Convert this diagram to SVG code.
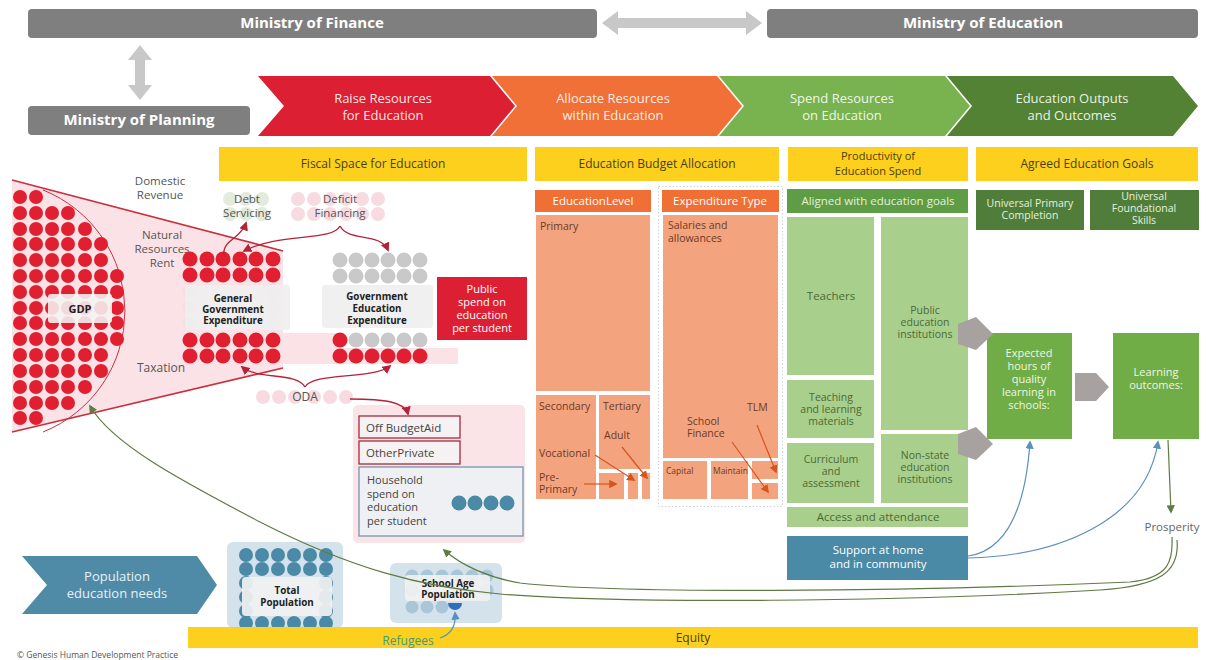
<svg xmlns="http://www.w3.org/2000/svg" width="1206" height="660" viewBox="0 0 1206 660">
<style>
text{font-family:"Open Sans","Noto Sans","Liberation Sans",sans-serif;}
.min{fill:#7f7f7f;}
.mint{fill:#fff;font-weight:bold;font-size:15px;text-anchor:middle;}
.chev{stroke:none;}
.chevt{fill:#fff;fill-opacity:0.9;font-size:13px;text-anchor:middle;}
.ybar{fill:#fdd01d;}
.ybt{fill:#4a3f10;font-size:12px;text-anchor:middle;}
.ybt2{fill:#4a3f10;font-size:11px;text-anchor:middle;}
.lbl{fill:#555;font-size:12px;text-anchor:middle;}
.lbl2{fill:#555;font-size:11.5px;text-anchor:middle;}
.rc{fill:#e01f30;}
.gc{fill:#c9c9c9;}
.pc{fill:#f8dbe0;}
.fc{fill:#f3dfe2;}
.bc{fill:#4a8aa6;}
.lbc{fill:#a9c6d8;}
.lbox{fill:#efefef;fill-opacity:0.92;}
.bold{fill:#222;font-size:9.8px;font-weight:bold;text-anchor:middle;}
.oh{fill:#ef6f35;}
.ob{fill:#f4a37f;stroke:#fff;stroke-width:2;}
.oht{fill:#fff;font-size:11.5px;text-anchor:middle;}
.ot{fill:#6b3b24;font-size:10.5px;}
.os{fill:#6b3b24;font-size:8.5px;}
.gh{fill:#5e9c46;}
.gb{fill:#a9cf8d;}
.gt{fill:#4b6a35;font-size:10.5px;text-anchor:middle;}
.gt1{fill:#4b6a35;font-size:11.5px;text-anchor:middle;}
.dg{fill:#507e3a;}
.dgt{fill:#e6f0dc;font-size:10.5px;text-anchor:middle;}
.dgh{fill:#e6f0dc;font-size:11.5px;text-anchor:middle;}
.mg{fill:#70ad47;}
.mgt{fill:#eef6e6;font-size:11px;text-anchor:middle;}
.garr{fill:#a7a19f;}
.blue{fill:#4a8aa6;}
.wt{fill:#fff;font-size:11.5px;text-anchor:middle;}
.dk{fill:#444;font-size:11.5px;}
.dk2{fill:#444;font-size:11px;}
.red{stroke:#b4233a;stroke-width:1.3;fill:none;}
.orn{stroke:#d4561f;stroke-width:1.2;fill:none;}
.blu{stroke:#5b8fc0;stroke-width:1.2;fill:none;}
.grn{stroke:#5f7a45;stroke-width:1.2;fill:none;}
</style>
<defs>
<marker id="mr" viewBox="0 0 10 10" refX="8" refY="5" markerWidth="7" markerHeight="7" orient="auto"><path d="M0,0 L10,5 L0,10 Z" fill="#b4233a"/></marker>
<marker id="mo" viewBox="0 0 10 10" refX="8" refY="5" markerWidth="7" markerHeight="7" orient="auto"><path d="M0,0 L10,5 L0,10 Z" fill="#d4561f"/></marker>
<marker id="mb" viewBox="0 0 10 10" refX="8" refY="5" markerWidth="7" markerHeight="7" orient="auto"><path d="M0,0 L10,5 L0,10 Z" fill="#5b8fc0"/></marker>
<marker id="mg" viewBox="0 0 10 10" refX="8" refY="5" markerWidth="7" markerHeight="7" orient="auto"><path d="M0,0 L10,5 L0,10 Z" fill="#5f7a45"/></marker>
</defs>
<rect width="1206" height="660" fill="#fff"/>

<!-- Ministries -->
<g id="ministry-finance"><rect class="min" x="28" y="9" width="569" height="29" rx="4"/><text class="mint" x="312" y="28">Ministry of Finance</text></g>
<g id="ministry-education"><rect class="min" x="767" y="9" width="431" height="29" rx="4"/><text class="mint" x="983" y="28">Ministry of Education</text></g>
<g id="ministry-planning"><rect class="min" x="28" y="106" width="222" height="29" rx="4"/><text class="mint" x="139" y="125">Ministry of Planning</text></g>
<g id="ministry-arrows" fill="#c8c8c8">
<polygon points="602,23 618,11 618,18 746,18 746,11 762,23 746,35 746,28 618,28 618,35"/>
<polygon points="140,45 152,60 145,60 145,85 152,85 140,100 128,85 135,85 135,60 128,60"/>
</g>

<!-- Chevrons -->
<g id="stage-raise"><path class="chev" fill="#dc1f33" d="M258 76 L490 76 L515 106 L490 136 L258 136 L284 106 Z"/><text class="chevt" x="383" y="103">Raise Resources</text><text class="chevt" x="383" y="120">for Education</text></g>
<g id="stage-allocate"><path class="chev" fill="#f07038" d="M492 76 L717 76 L742 106 L717 136 L492 136 L517 106 Z"/><text class="chevt" x="613" y="103">Allocate Resources</text><text class="chevt" x="613" y="120">within Education</text></g>
<g id="stage-spend"><path class="chev" fill="#78b350" d="M719 76 L945 76 L970 106 L945 136 L719 136 L744 106 Z"/><text class="chevt" x="842" y="103">Spend Resources</text><text class="chevt" x="842" y="120">on Education</text></g>
<g id="stage-outputs"><path class="chev" fill="#548235" d="M947 76 L1173 76 L1198 106 L1173 136 L947 136 L972 106 Z"/><text class="chevt" x="1072" y="103">Education Outputs</text><text class="chevt" x="1072" y="120">and Outcomes</text></g>

<!-- Yellow headers -->
<g id="hdr-fiscal"><rect class="ybar" x="219" y="147" width="308" height="34"/><text class="ybt" x="373" y="168">Fiscal Space for Education</text></g>
<g id="hdr-budget"><rect class="ybar" x="535" y="147" width="244" height="34"/><text class="ybt" x="657" y="168">Education  Budget  Allocation</text></g>
<g id="hdr-productivity"><rect class="ybar" x="788" y="147" width="180" height="34"/><text class="ybt2" x="878" y="160">Productivity of</text><text class="ybt2" x="878" y="175">Education  Spend</text></g>
<g id="hdr-goals"><rect class="ybar" x="976" y="147" width="222" height="34"/><text class="ybt" x="1087" y="168">Agreed  Education  Goals</text></g>

<!-- Funnel and GDP -->
<g id="funnel">
<polygon points="12,180 283,251 283,368 12,432" fill="#fbe2e6"/>
<rect x="283" y="333" width="55" height="15" fill="#fbe2e6"/>
<rect x="283" y="348" width="175" height="16" fill="#fbe2e6"/>
<line x1="12" y1="180" x2="283" y2="251" stroke="#c9303f" stroke-width="1.6"/>
<line x1="12" y1="432" x2="283" y2="368" stroke="#c9303f" stroke-width="1.6"/>
<path d="M43 190 A130.3 130.3 0 0 1 43 432" fill="none" stroke="#c9303f" stroke-width="1"/>
<text class="lbl2" x="160" y="185">Domestic</text><text class="lbl2" x="160" y="199">Revenue</text>
<text class="lbl2" x="162" y="239">Natural</text><text class="lbl2" x="162" y="253">Resources</text><text class="lbl2" x="162" y="267">Rent</text>
<text class="lbl" x="161" y="372">Taxation</text>
</g>
<g id="gdp" class="rc">
<circle cx="20" cy="197" r="7"/><circle cx="36" cy="197" r="7"/>
<circle cx="20" cy="213" r="7"/><circle cx="36" cy="213" r="7"/><circle cx="52" cy="213" r="7"/><circle cx="68" cy="213" r="7"/>
<circle cx="20" cy="229" r="7"/><circle cx="36" cy="229" r="7"/><circle cx="52" cy="229" r="7"/><circle cx="68" cy="229" r="7"/><circle cx="85" cy="229" r="7"/>
<circle cx="20" cy="244" r="7"/><circle cx="36" cy="244" r="7"/><circle cx="52" cy="244" r="7"/><circle cx="68" cy="244" r="7"/><circle cx="85" cy="244" r="7"/><circle cx="101" cy="244" r="7"/>
<circle cx="20" cy="260" r="7"/><circle cx="36" cy="260" r="7"/><circle cx="52" cy="260" r="7"/><circle cx="68" cy="260" r="7"/><circle cx="85" cy="260" r="7"/><circle cx="101" cy="260" r="7"/>
<circle cx="20" cy="276" r="7"/><circle cx="36" cy="276" r="7"/><circle cx="52" cy="276" r="7"/><circle cx="68" cy="276" r="7"/><circle cx="85" cy="276" r="7"/><circle cx="101" cy="276" r="7"/><circle cx="117" cy="276" r="7"/>
<circle cx="20" cy="292" r="7"/><circle cx="36" cy="292" r="7"/><circle cx="52" cy="292" r="7"/><circle cx="68" cy="292" r="7"/><circle cx="85" cy="292" r="7"/><circle cx="101" cy="292" r="7"/><circle cx="117" cy="292" r="7"/>
<circle cx="20" cy="308" r="7"/><circle cx="36" cy="308" r="7"/><circle cx="52" cy="308" r="7"/><circle cx="68" cy="308" r="7"/><circle cx="85" cy="308" r="7"/><circle cx="101" cy="308" r="7"/><circle cx="117" cy="308" r="7"/>
<circle cx="20" cy="323" r="7"/><circle cx="36" cy="323" r="7"/><circle cx="52" cy="323" r="7"/><circle cx="68" cy="323" r="7"/><circle cx="85" cy="323" r="7"/><circle cx="101" cy="323" r="7"/><circle cx="117" cy="323" r="7"/>
<circle cx="20" cy="339" r="7"/><circle cx="36" cy="339" r="7"/><circle cx="52" cy="339" r="7"/><circle cx="68" cy="339" r="7"/><circle cx="85" cy="339" r="7"/><circle cx="101" cy="339" r="7"/><circle cx="117" cy="339" r="7"/>
<circle cx="20" cy="355" r="7"/><circle cx="36" cy="355" r="7"/><circle cx="52" cy="355" r="7"/><circle cx="68" cy="355" r="7"/><circle cx="85" cy="355" r="7"/><circle cx="101" cy="355" r="7"/>
<circle cx="20" cy="371" r="7"/><circle cx="36" cy="371" r="7"/><circle cx="52" cy="371" r="7"/><circle cx="68" cy="371" r="7"/><circle cx="85" cy="371" r="7"/><circle cx="101" cy="371" r="7"/>
<circle cx="20" cy="387" r="7"/><circle cx="36" cy="387" r="7"/><circle cx="52" cy="387" r="7"/><circle cx="68" cy="387" r="7"/><circle cx="85" cy="387" r="7"/>
<circle cx="20" cy="403" r="7"/><circle cx="36" cy="403" r="7"/><circle cx="52" cy="403" r="7"/><circle cx="68" cy="403" r="7"/>
<circle cx="20" cy="418" r="7"/><circle cx="36" cy="418" r="7"/>
<rect x="48" y="294" width="64" height="29" rx="3" fill="#f4f4f4" fill-opacity="0.88"/>
<text x="80" y="313" class="bold" style="font-size:11px">GDP</text>
</g>

<!-- Debt servicing & deficit financing -->
<g id="debt-servicing">
<g fill="#e2ebdc"><circle cx="230" cy="199" r="7"/><circle cx="246" cy="199" r="7"/><circle cx="262" cy="199" r="7"/><circle cx="230" cy="214" r="7"/><circle cx="246" cy="214" r="7"/><circle cx="262" cy="214" r="7"/></g>
<text class="lbl2" x="247" y="203">Debt</text><text class="lbl2" x="247" y="217">Servicing</text>
</g>
<g id="deficit-financing">
<g class="pc"><circle cx="298" cy="199" r="7"/><circle cx="314" cy="199" r="7"/><circle cx="330" cy="199" r="7"/><circle cx="346" cy="199" r="7"/><circle cx="362" cy="199" r="7"/><circle cx="378" cy="199" r="7"/><circle cx="298" cy="214" r="7"/><circle cx="314" cy="214" r="7"/><circle cx="330" cy="214" r="7"/><circle cx="346" cy="214" r="7"/><circle cx="362" cy="214" r="7"/><circle cx="378" cy="214" r="7"/></g>
<text class="lbl2" x="340" y="203">Deficit</text><text class="lbl2" x="340" y="217">Financing</text>
</g>

<!-- General Government Expenditure -->
<g id="gge">
<g class="rc"><circle cx="190" cy="259" r="7.5"/><circle cx="207" cy="259" r="7.5"/><circle cx="223" cy="259" r="7.5"/><circle cx="240" cy="259" r="7.5"/><circle cx="256" cy="259" r="7.5"/><circle cx="273" cy="259" r="7.5"/>
<circle cx="190" cy="275" r="7.5"/><circle cx="207" cy="275" r="7.5"/><circle cx="223" cy="275" r="7.5"/><circle cx="240" cy="275" r="7.5"/><circle cx="256" cy="275" r="7.5"/><circle cx="273" cy="275" r="7.5"/></g>
<g class="fc"><circle cx="190" cy="291" r="7.5"/><circle cx="273" cy="291" r="7.5"/><circle cx="190" cy="307" r="7.5"/><circle cx="273" cy="307" r="7.5"/><circle cx="190" cy="323" r="7.5"/><circle cx="273" cy="323" r="7.5"/></g>
<rect class="lbox" x="185" y="285" width="105" height="45" rx="3"/>
<text class="bold" x="233" y="302">General</text><text class="bold" x="233" y="313">Government</text><text class="bold" x="233" y="324">Expenditure</text>
<g class="rc"><circle cx="190" cy="340" r="7.5"/><circle cx="207" cy="340" r="7.5"/><circle cx="223" cy="340" r="7.5"/><circle cx="240" cy="340" r="7.5"/><circle cx="256" cy="340" r="7.5"/><circle cx="273" cy="340" r="7.5"/>
<circle cx="190" cy="356" r="7.5"/><circle cx="207" cy="356" r="7.5"/><circle cx="223" cy="356" r="7.5"/><circle cx="240" cy="356" r="7.5"/><circle cx="256" cy="356" r="7.5"/><circle cx="273" cy="356" r="7.5"/></g>
</g>

<!-- Government Education Expenditure -->
<g id="gee">
<g class="gc"><circle cx="340" cy="260" r="7.5"/><circle cx="356" cy="260" r="7.5"/><circle cx="372" cy="260" r="7.5"/><circle cx="388" cy="260" r="7.5"/><circle cx="404" cy="260" r="7.5"/><circle cx="420" cy="260" r="7.5"/>
<circle cx="340" cy="276" r="7.5"/><circle cx="356" cy="276" r="7.5"/><circle cx="372" cy="276" r="7.5"/><circle cx="388" cy="276" r="7.5"/><circle cx="404" cy="276" r="7.5"/><circle cx="420" cy="276" r="7.5"/></g>
<rect class="lbox" x="322" y="285" width="111" height="43" rx="3"/>
<text class="bold" x="377" y="300">Government</text><text class="bold" x="377" y="312">Education</text><text class="bold" x="377" y="324">Expenditure</text>
<circle class="rc" cx="340" cy="340" r="7.5"/>
<g class="gc"><circle cx="356" cy="340" r="7.5"/><circle cx="372" cy="340" r="7.5"/><circle cx="388" cy="340" r="7.5"/><circle cx="404" cy="340" r="7.5"/><circle cx="420" cy="340" r="7.5"/></g>
<g class="rc"><circle cx="340" cy="356" r="7.5"/><circle cx="356" cy="356" r="7.5"/><circle cx="372" cy="356" r="7.5"/><circle cx="388" cy="356" r="7.5"/><circle cx="404" cy="356" r="7.5"/><circle cx="420" cy="356" r="7.5"/></g>
</g>

<g id="public-spend"><rect x="437" y="277" width="90" height="63" fill="#dc1f33"/>
<text class="wt" x="482" y="293" style="font-size:11px">Public</text><text class="wt" x="482" y="306" style="font-size:11px">spend on</text><text class="wt" x="482" y="319" style="font-size:11px">education</text><text class="wt" x="482" y="332" style="font-size:11px">per student</text></g>

<!-- ODA -->
<g id="oda"><g class="pc"><circle cx="263" cy="397" r="7"/><circle cx="279" cy="397" r="7"/><circle cx="295" cy="397" r="7"/><circle cx="314" cy="397" r="7"/><circle cx="330" cy="397" r="7"/><circle cx="346" cy="397" r="7"/></g>
<text class="lbl" x="305" y="401">ODA</text></g>

<!-- Private sources panel -->
<g id="private-panel">
<rect x="353" y="405" width="172" height="138" rx="5" fill="#fbe4e8"/>
<rect x="359" y="416" width="101" height="22" fill="#f6f1f2" stroke="#a52a3a" stroke-width="1.3"/>
<text class="dk" x="366" y="432">Off BudgetAid</text>
<rect x="359" y="441" width="101" height="23" fill="#f6f1f2" stroke="#a52a3a" stroke-width="1.3"/>
<text class="dk" x="366" y="457">OtherPrivate</text>
<rect x="359" y="467" width="164" height="69" fill="#eef0f3" stroke="#7397ae" stroke-width="1.3"/>
<text class="dk2" x="367" y="484">Household</text><text class="dk2" x="367" y="498">spend on</text><text class="dk2" x="367" y="511">education</text><text class="dk2" x="367" y="525">per student</text>
<g class="bc"><circle cx="459" cy="503" r="7.5"/><circle cx="475" cy="503" r="7.5"/><circle cx="491" cy="503" r="7.5"/><circle cx="507" cy="503" r="7.5"/></g>
</g>

<!-- Budget allocation: education level -->
<g id="education-level">
<rect class="oh" x="535" y="190" width="116" height="22"/><text class="oht" x="593" y="205">EducationLevel</text>
<rect class="ob" x="535" y="214" width="116" height="178"/><text class="ot" x="540" y="230">Primary</text>
<rect class="ob" x="535" y="394" width="62" height="106"/><text class="ot" x="539" y="410">Secondary</text>
<rect class="ob" x="598" y="394" width="53" height="76"/><text class="ot" x="603" y="410">Tertiary</text>
<rect class="ob" x="598" y="472" width="27" height="28"/><rect class="ob" x="627" y="472" width="12" height="28"/><rect class="ob" x="641" y="472" width="10" height="28"/>
<text class="ot" x="604" y="439">Adult</text>
<text class="ot" x="539" y="457">Vocational</text>
<text class="ot" x="539" y="481">Pre-</text><text class="ot" x="539" y="493">Primary</text>
</g>
<!-- Budget allocation: expenditure type -->
<g id="expenditure-type">
<rect x="658.5" y="186.5" width="124" height="320" fill="none" stroke="#c9d3de" stroke-width="1" stroke-dasharray="1.5 2"/>
<rect class="oh" x="662" y="190" width="117" height="22"/><text class="oht" x="720" y="205">Expenditure Type</text>
<rect class="ob" x="662" y="214" width="117" height="245"/><text class="ot" x="668" y="229">Salaries and</text><text class="ot" x="668" y="242">allowances</text>
<rect class="ob" x="662" y="460" width="46" height="40"/><rect class="ob" x="710" y="460" width="39" height="40"/>
<rect class="ob" x="751" y="460" width="28" height="20"/><rect class="ob" x="751" y="482" width="28" height="18"/>
<text class="os" x="666" y="474">Capital</text><text class="os" x="713" y="474">Maintain</text>
<text class="ot" x="687" y="425">School</text><text class="ot" x="687" y="437">Finance</text>
<text class="ot" x="747" y="411">TLM</text>
</g>

<!-- Productivity -->
<g id="productivity">
<rect class="gh" x="787" y="189" width="181" height="24"/><text class="dgh" x="878" y="205">Aligned with education goals</text>
<rect class="gb" x="787" y="217" width="87" height="158"/><text class="gt1" x="831" y="300">Teachers</text>
<rect class="gb" x="881" y="217" width="87" height="213"/><text class="gt" x="925" y="314">Public</text><text class="gt" x="925" y="326">education</text><text class="gt" x="925" y="338">institutions</text>
<rect class="gb" x="787" y="380" width="87" height="58"/><text class="gt" x="831" y="401">Teaching</text><text class="gt" x="831" y="413">and learning</text><text class="gt" x="831" y="425">materials</text>
<rect class="gb" x="787" y="443" width="87" height="60"/><text class="gt" x="831" y="463">Curriculum</text><text class="gt" x="831" y="475">and</text><text class="gt" x="831" y="487">assessment</text>
<rect class="gb" x="881" y="434" width="87" height="69"/><text class="gt" x="925" y="459">Non-state</text><text class="gt" x="925" y="471">education</text><text class="gt" x="925" y="483">institutions</text>
<rect class="gb" x="787" y="507" width="181" height="20"/><text class="gt1" x="878" y="521">Access and attendance</text>
</g>
<g id="support-home"><rect class="blue" x="787" y="536" width="181" height="44"/><text class="wt" x="878" y="554">Support at home</text><text class="wt" x="878" y="568">and in community</text></g>

<!-- Goals -->
<g id="goal-primary"><rect class="dg" x="976" y="190" width="108" height="40"/><text class="dgt" x="1030" y="207">Universal Primary</text><text class="dgt" x="1030" y="219">Completion</text></g>
<g id="goal-foundational"><rect class="dg" x="1090" y="190" width="109" height="40"/><text class="dgt" x="1144" y="200">Universal</text><text class="dgt" x="1144" y="212">Foundational</text><text class="dgt" x="1144" y="224">Skills</text></g>
<g id="expected-hours"><rect class="mg" x="987" y="333" width="85" height="106"/>
<text class="mgt" x="1029" y="357">Expected</text><text class="mgt" x="1029" y="370">hours of</text><text class="mgt" x="1029" y="383">quality</text><text class="mgt" x="1029" y="396">learning in</text><text class="mgt" x="1029" y="409">schools:</text></g>
<g id="learning-outcomes"><rect class="mg" x="1113" y="333" width="86" height="106"/>
<text class="mgt" x="1156" y="376">Learning</text><text class="mgt" x="1156" y="389">outcomes:</text></g>
<g id="gray-arrows" class="garr">
<polygon points="958,324 976,317 993,334 976,350 958,344"/>
<polygon points="958,434 976,427 993,444 976,460 958,454"/>
<polygon points="1075,373 1096,373 1109,387 1096,401 1075,401"/>
</g>
<g id="prosperity"><text x="1172" y="531" style="fill:#666;font-size:11.5px;text-anchor:middle">Prosperity</text></g>

<!-- Population -->
<g id="population-needs"><path d="M22 556 L197 556 L217 585 L197 614 L22 614 L47 585 Z" fill="#4f8ba6"/>
<text x="117" y="581" style="fill:#e8f1f6;font-size:13px;text-anchor:middle">Population</text><text x="117" y="598" style="fill:#e8f1f6;font-size:13px;text-anchor:middle">education  needs</text></g>
<g id="total-population">
<rect x="227" y="542" width="116" height="86" rx="6" fill="#d4e2eb"/>
<g class="bc">
<circle cx="246" cy="555" r="7"/><circle cx="262" cy="555" r="7"/><circle cx="278" cy="555" r="7"/><circle cx="294" cy="555" r="7"/><circle cx="310" cy="555" r="7"/><circle cx="326" cy="555" r="7"/>
<circle cx="246" cy="569" r="7"/><circle cx="262" cy="569" r="7"/><circle cx="278" cy="569" r="7"/><circle cx="294" cy="569" r="7"/><circle cx="310" cy="569" r="7"/><circle cx="326" cy="569" r="7"/>
<circle cx="246" cy="583" r="7"/><circle cx="326" cy="583" r="7"/><circle cx="246" cy="597" r="7"/><circle cx="326" cy="597" r="7"/><circle cx="246" cy="611" r="7"/><circle cx="326" cy="611" r="7"/>
<circle cx="246" cy="623" r="7"/><circle cx="262" cy="623" r="7"/><circle cx="278" cy="623" r="7"/><circle cx="294" cy="623" r="7"/><circle cx="310" cy="623" r="7"/><circle cx="326" cy="623" r="7"/>
</g>
<rect x="242" y="577" width="90" height="39" rx="4" fill="#f1f1f1" fill-opacity="0.92"/>
<text class="bold" x="287" y="594">Total</text><text class="bold" x="287" y="606">Population</text>
</g>
<g id="school-age">
<rect x="390" y="563" width="112" height="60" rx="6" fill="#d4e2eb"/>
<g class="lbc"><circle cx="412" cy="576" r="6.5"/><circle cx="427" cy="576" r="6.5"/><circle cx="442" cy="576" r="6.5"/><circle cx="457" cy="576" r="6.5"/><circle cx="472" cy="576" r="6.5"/><circle cx="487" cy="576" r="6.5"/>
<circle cx="412" cy="590" r="6.5"/><circle cx="487" cy="590" r="6.5"/>
<circle cx="412" cy="607" r="6.5"/><circle cx="427" cy="607" r="6.5"/><circle cx="442" cy="607" r="6.5"/></g>
<rect x="405" y="575" width="85" height="26" rx="4" fill="#f1f1f1" fill-opacity="0.92"/>
<text class="bold" x="448" y="587">School Age</text><text class="bold" x="448" y="598">Population</text>
<path d="M448 603 H462 A7 7 0 0 1 448 603 Z" fill="#2f6fb8"/>
</g>

<!-- Equity -->
<g id="equity"><rect x="188" y="627" width="1010" height="21" fill="#fdd01d"/><text x="693" y="642" style="fill:#4a3f10;font-size:12px;text-anchor:middle">Equity</text></g>
<g id="refugees"><text x="408" y="645" style="fill:#3f9a86;font-size:12px;text-anchor:middle">Refugees</text></g>
<text x="17" y="658" style="fill:#555;font-size:8.5px">© Genesis Human Development Practice</text>

<!-- Connectors -->
<g id="connectors">
<path class="red" d="M340 226 C332 242 280 232 244 251" marker-end="url(#mr)"/>
<path class="red" d="M340 226 C348 242 380 232 388 250" marker-end="url(#mr)"/>
<path class="red" d="M224 255 C222 240 240 240 246 223" marker-end="url(#mr)"/>
<path class="red" d="M305 387 C297 372 258 380 242 367" marker-end="url(#mr)"/>
<path class="red" d="M305 387 C313 372 372 380 390 366" marker-end="url(#mr)"/>
<path class="red" d="M350 399 C385 399 405 402 408 414" marker-end="url(#mr)"/>
<path class="orn" d="M584 484 L616 484" marker-end="url(#mo)"/>
<path class="orn" d="M595 455 L634 480" marker-end="url(#mo)"/>
<path class="orn" d="M622 447 L647 478" marker-end="url(#mo)"/>
<path class="orn" d="M757 425 L776 472" marker-end="url(#mo)"/>
<path class="orn" d="M732 442 L768 492" marker-end="url(#mo)"/>
<path class="blu" d="M968 556 C1010 550 1026 500 1030 442" marker-end="url(#mb)"/>
<path class="blu" d="M968 558 C1060 556 1146 520 1158 442" marker-end="url(#mb)"/>
<path class="blu" d="M440 638 C452 634 456 624 455 613" marker-end="url(#mb)"/>
<path class="grn" d="M1168 440 L1171 512" marker-end="url(#mg)"/>
<path class="grn" d="M1172 537 C1173 560 1170 578 1130 582 C900 592 620 594 520 583 C490 578 462 566 444 550" marker-end="url(#mg)"/>
<path class="grn" d="M1177 540 C1180 572 1160 586 1100 590 C900 602 620 604 500 594 C420 587 350 568 260 522 C180 480 112 444 90 406" marker-end="url(#mg)"/>
</g>
</svg>
